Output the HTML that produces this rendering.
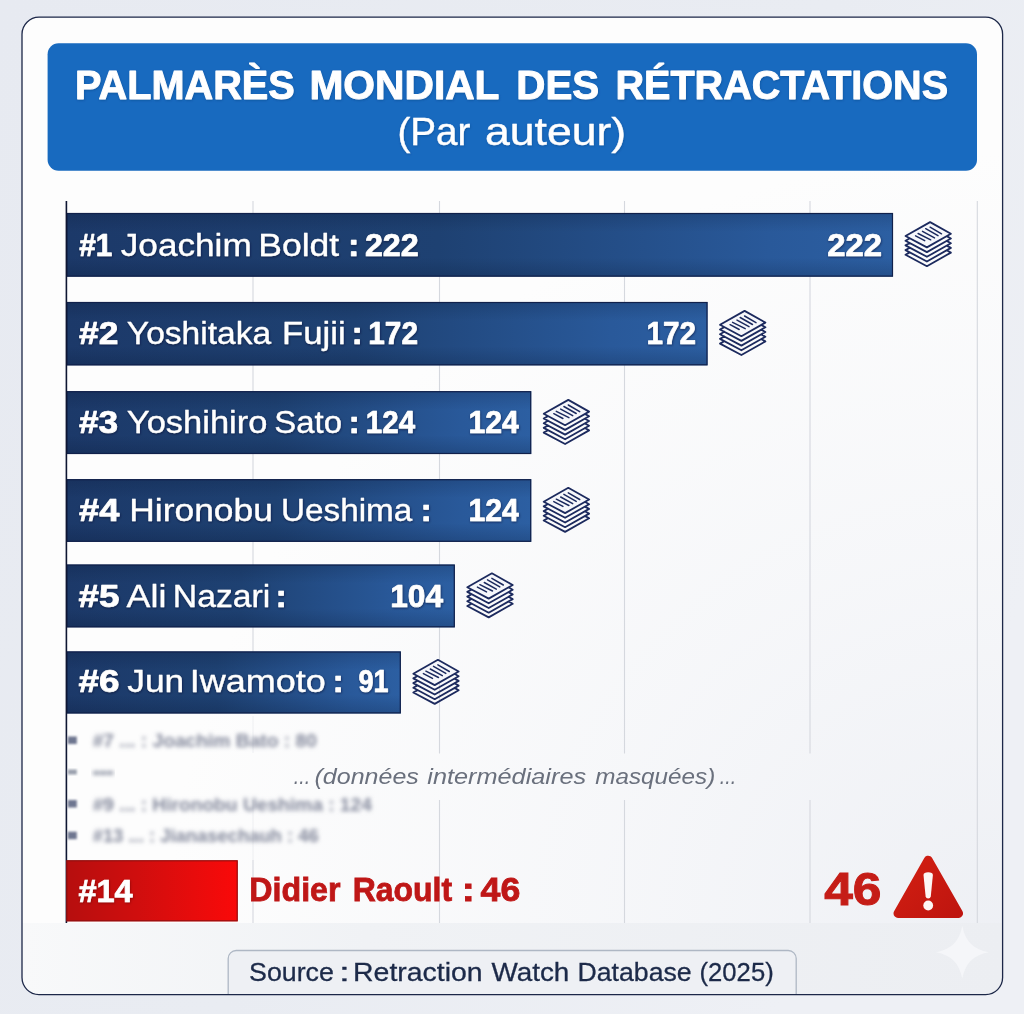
<!DOCTYPE html>
<html lang="fr"><head><meta charset="utf-8"><title>Palmarès mondial des rétractations</title>
<style>
html,body{margin:0;padding:0;background:#e8eaf0;}
body{width:1024px;height:1014px;overflow:hidden;}
svg{display:block;font-family:"Liberation Sans",sans-serif;}
</style></head><body>
<svg width="1024" height="1014" viewBox="0 0 1024 1014">
<defs>
<linearGradient id="gb" x1="0" y1="0" x2="1" y2="0">
<stop offset="0" stop-color="#1c3969"/><stop offset="0.45" stop-color="#1e4172"/><stop offset="0.85" stop-color="#29599a"/><stop offset="1" stop-color="#2c5fa2"/>
</linearGradient>
<linearGradient id="gv" x1="0" y1="0" x2="0" y2="1">
<stop offset="0" stop-color="#000a20" stop-opacity="0.16"/><stop offset="0.3" stop-color="#000a20" stop-opacity="0"/><stop offset="0.7" stop-color="#000a20" stop-opacity="0"/><stop offset="1" stop-color="#000a20" stop-opacity="0.18"/>
</linearGradient>
<linearGradient id="gr" x1="0" y1="0" x2="1" y2="0">
<stop offset="0" stop-color="#b60e0e"/><stop offset="0.42" stop-color="#d00e0e"/><stop offset="0.75" stop-color="#e80c0c"/><stop offset="1" stop-color="#fa0909"/>
</linearGradient>
<linearGradient id="gbg" x1="0" y1="0" x2="1" y2="0.6">
<stop offset="0" stop-color="#e7eaf1"/><stop offset="0.6" stop-color="#e9ecf2"/><stop offset="1" stop-color="#eef0f5"/>
</linearGradient>
<radialGradient id="gtint" cx="1" cy="1" r="0.85">
<stop offset="0" stop-color="#edeff4" stop-opacity="0.95"/><stop offset="0.45" stop-color="#eef0f5" stop-opacity="0.5"/><stop offset="1" stop-color="#eef0f5" stop-opacity="0"/>
</radialGradient>
<linearGradient id="gfoot" x1="0" y1="0" x2="1" y2="0">
<stop offset="0" stop-color="#f8f9fa"/><stop offset="0.35" stop-color="#f0f2f5"/><stop offset="1" stop-color="#eceef2"/>
</linearGradient>
<linearGradient id="gtri" x1="0" y1="0" x2="1" y2="1">
<stop offset="0" stop-color="#d21f12"/><stop offset="1" stop-color="#bf150f"/>
</linearGradient>
<clipPath id="cardclip"><rect x="22" y="17.2" width="980.6" height="977.4" rx="17"/></clipPath>
<filter id="blur" x="-5%" y="-50%" width="110%" height="200%"><feGaussianBlur stdDeviation="2.1"/></filter>
<filter id="blur2" x="-30%" y="-30%" width="160%" height="160%"><feGaussianBlur stdDeviation="1.1"/></filter>
<filter id="ts" x="-5%" y="-30%" width="110%" height="160%"><feDropShadow dx="0.5" dy="1" stdDeviation="1.3" flood-color="#08122e" flood-opacity="0.6"/></filter>
<filter id="ts3" x="-5%" y="-30%" width="110%" height="160%"><feDropShadow dx="0.5" dy="1" stdDeviation="1.2" flood-color="#5a0606" flood-opacity="0.55"/></filter>
<filter id="ts2" x="-5%" y="-30%" width="110%" height="160%"><feDropShadow dx="0.5" dy="1" stdDeviation="1.3" flood-color="#0d3a78" flood-opacity="0.45"/></filter>
<g id="stack" fill="none" stroke="#1c2a5e" stroke-width="1.8" stroke-linejoin="round" stroke-linecap="round">

<path d="M13.8 40.4 L9.5 42.8 L30.9 54.2 L54.9 40.6 L50.7 38.2 M13.8 35.7 L9.5 38.1 L30.9 49.5 L54.9 35.9 L50.7 33.6 M13.8 31.0 L9.5 33.4 L30.9 44.8 L54.9 31.2 L50.7 28.9 M13.8 26.3 L9.5 28.7 L30.9 40.1 L54.9 26.5 L50.7 24.1"/>
<path d="M34.1 10.1 L54.9 21.8 L30.9 35.4 L9.5 24 Z" fill="#f6f7fb"/>
<path d="M34.1 15.2 L45.5 21.8 M29.7 16.7 L42 23.7 M26.5 19.3 L38.5 25.9 M22.1 21.5 L34.7 27.8 M19.6 23.9 L28.7 28.7" stroke-width="1.5"/>
</g>
</defs>

<rect width="1024" height="1014" fill="url(#gbg)"/>
<rect x="22" y="17.2" width="980.6" height="977.4" rx="17" fill="#fdfdfd"/>
<g clip-path="url(#cardclip)">
<rect x="22" y="17" width="981" height="906" fill="url(#gtint)"/>
<rect x="22" y="923" width="981" height="73" fill="url(#gfoot)"/>
<rect x="228.2" y="950.5" width="568" height="60" rx="8" fill="#eef0f4" stroke="#aeb7c4" stroke-width="1.3"/>
</g>
<rect x="22" y="17.2" width="980.6" height="977.4" rx="17" fill="none" stroke="#1c2748" stroke-width="1.3"/>
<rect x="47.6" y="43.2" width="929.4" height="127.6" rx="11" fill="#186abf"/>
<g filter="url(#ts2)" stroke="#fff" stroke-linejoin="round">
<text y="99.2" font-size="40" fill="#fff"><tspan x="74.96" font-weight="700" textLength="219.84" lengthAdjust="spacingAndGlyphs" stroke-width="0.9">PALMARÈS</tspan> <tspan x="309.40" font-weight="700" textLength="190.12" lengthAdjust="spacingAndGlyphs" stroke-width="0.9">MONDIAL</tspan> <tspan x="516.32" font-weight="700" textLength="82.86" lengthAdjust="spacingAndGlyphs" stroke-width="0.9">DES</tspan> <tspan x="615.46" font-weight="700" textLength="332.63" lengthAdjust="spacingAndGlyphs" stroke-width="0.9">RÉTRACTATIONS</tspan></text>
<text y="144.7" font-size="38" fill="#fff"><tspan x="397.40" font-weight="400" textLength="73.06" lengthAdjust="spacingAndGlyphs" stroke-width="0.35">(Par</tspan> <tspan x="484.94" font-weight="400" textLength="141.29" lengthAdjust="spacingAndGlyphs" stroke-width="0.35">auteur)</tspan></text>
</g>
<path d="M439.5 201 V753.5 M439.5 800 V923" stroke="#d5d8de" stroke-width="1.1" fill="none"/>
<path d="M624.5 201 V753.5 M624.5 800 V923" stroke="#d5d8de" stroke-width="1.1" fill="none"/>
<path d="M810 201 V753.5 M810 800 V923" stroke="#d5d8de" stroke-width="1.1" fill="none"/>
<path d="M253 201 V713" stroke="#d5d8de" stroke-width="1.1" fill="none"/>
<path d="M253 716 V753 M253 800 V860" stroke="#d5d8de" stroke-width="1.1" fill="none" opacity="0.3"/>
<path d="M253 860 V923" stroke="#d5d8de" stroke-width="1.1" fill="none" stroke-dasharray="30 8"/>
<path d="M977.3 201 V923" stroke="#d5d8de" stroke-width="1.1" fill="none"/>
<rect x="66.4" y="213" width="826.6" height="63.6" fill="url(#gb)"/>
<rect x="66.4" y="213" width="826.6" height="63.6" fill="url(#gv)"/>
<rect x="66.9" y="213.5" width="825.6" height="62.6" fill="none" stroke="#11214b" stroke-width="1.2"/>
<use href="#stack" x="896.0" y="212.0"/>
<rect x="66.4" y="302" width="641.1" height="63.3" fill="url(#gb)"/>
<rect x="66.4" y="302" width="641.1" height="63.3" fill="url(#gv)"/>
<rect x="66.9" y="302.5" width="640.1" height="62.3" fill="none" stroke="#11214b" stroke-width="1.2"/>
<use href="#stack" x="710.5" y="300.8"/>
<rect x="66.4" y="391.2" width="464.8" height="62.8" fill="url(#gb)"/>
<rect x="66.4" y="391.2" width="464.8" height="62.8" fill="url(#gv)"/>
<rect x="66.9" y="391.7" width="463.8" height="61.8" fill="none" stroke="#11214b" stroke-width="1.2"/>
<use href="#stack" x="534.2" y="389.8"/>
<rect x="66.4" y="479.2" width="464.8" height="62.6" fill="url(#gb)"/>
<rect x="66.4" y="479.2" width="464.8" height="62.6" fill="url(#gv)"/>
<rect x="66.9" y="479.7" width="463.8" height="61.6" fill="none" stroke="#11214b" stroke-width="1.2"/>
<use href="#stack" x="534.2" y="477.7"/>
<rect x="66.4" y="564.6" width="388.4" height="62.7" fill="url(#gb)"/>
<rect x="66.4" y="564.6" width="388.4" height="62.7" fill="url(#gv)"/>
<rect x="66.9" y="565.1" width="387.4" height="61.7" fill="none" stroke="#11214b" stroke-width="1.2"/>
<use href="#stack" x="457.8" y="563.2"/>
<rect x="66.4" y="651.5" width="334.4" height="61.9" fill="url(#gb)"/>
<rect x="66.4" y="651.5" width="334.4" height="61.9" fill="url(#gv)"/>
<rect x="66.9" y="652.0" width="333.4" height="60.9" fill="none" stroke="#11214b" stroke-width="1.2"/>
<use href="#stack" x="403.8" y="649.7"/>
<line x1="66.4" y1="201" x2="66.4" y2="923" stroke="#0e1632" stroke-width="1.6"/>
<g filter="url(#ts)" stroke="#fff" stroke-linejoin="round">
<text y="255.6" font-size="32" fill="#fff"><tspan x="79.15" font-weight="700" textLength="33.09" lengthAdjust="spacingAndGlyphs" stroke-width="0.7">#1</tspan> <tspan x="120.76" font-weight="400" textLength="130.95" lengthAdjust="spacingAndGlyphs" stroke-width="0.3">Joachim</tspan> <tspan x="258.33" font-weight="400" textLength="80.88" lengthAdjust="spacingAndGlyphs" stroke-width="0.3">Boldt</tspan> <tspan x="348.09" font-weight="700" textLength="11.37" lengthAdjust="spacingAndGlyphs" stroke-width="0.7">:</tspan> <tspan x="364.94" font-weight="700" textLength="53.79" lengthAdjust="spacingAndGlyphs" stroke-width="0.7">222</tspan> <tspan x="827.22" font-weight="700" textLength="54.82" lengthAdjust="spacingAndGlyphs" stroke-width="0.7">222</tspan></text>
<text y="343.6" font-size="32" fill="#fff"><tspan x="79.12" font-weight="700" textLength="39.36" lengthAdjust="spacingAndGlyphs" stroke-width="0.7">#2</tspan> <tspan x="126.88" font-weight="400" textLength="144.23" lengthAdjust="spacingAndGlyphs" stroke-width="0.3">Yoshitaka</tspan> <tspan x="281.99" font-weight="400" textLength="63.60" lengthAdjust="spacingAndGlyphs" stroke-width="0.3">Fujii</tspan> <tspan x="351.59" font-weight="700" textLength="11.37" lengthAdjust="spacingAndGlyphs" stroke-width="0.7">:</tspan> <tspan x="368.25" font-weight="700" textLength="49.70" lengthAdjust="spacingAndGlyphs" stroke-width="0.7">172</tspan> <tspan x="646.46" font-weight="700" textLength="49.49" lengthAdjust="spacingAndGlyphs" stroke-width="0.7">172</tspan></text>
<text y="433.0" font-size="32" fill="#fff"><tspan x="79.02" font-weight="700" textLength="39.19" lengthAdjust="spacingAndGlyphs" stroke-width="0.7">#3</tspan> <tspan x="126.85" font-weight="400" textLength="140.56" lengthAdjust="spacingAndGlyphs" stroke-width="0.3">Yoshihiro</tspan> <tspan x="274.38" font-weight="400" textLength="67.69" lengthAdjust="spacingAndGlyphs" stroke-width="0.3">Sato</tspan> <tspan x="348.59" font-weight="700" textLength="11.37" lengthAdjust="spacingAndGlyphs" stroke-width="0.7">:</tspan> <tspan x="365.86" font-weight="700" textLength="49.20" lengthAdjust="spacingAndGlyphs" stroke-width="0.7">124</tspan> <tspan x="468.43" font-weight="700" textLength="50.44" lengthAdjust="spacingAndGlyphs" stroke-width="0.7">124</tspan></text>
<text y="521.0" font-size="32" fill="#fff"><tspan x="79.01" font-weight="700" textLength="40.35" lengthAdjust="spacingAndGlyphs" stroke-width="0.7">#4</tspan> <tspan x="129.34" font-weight="400" textLength="143.47" lengthAdjust="spacingAndGlyphs" stroke-width="0.3">Hironobu</tspan> <tspan x="281.02" font-weight="400" textLength="131.24" lengthAdjust="spacingAndGlyphs" stroke-width="0.3">Ueshima</tspan> <tspan x="420.59" font-weight="700" textLength="11.37" lengthAdjust="spacingAndGlyphs" stroke-width="0.7">:</tspan> <tspan x="468.43" font-weight="700" textLength="50.44" lengthAdjust="spacingAndGlyphs" stroke-width="0.7">124</tspan></text>
<text y="606.6" font-size="32" fill="#fff"><tspan x="78.61" font-weight="700" textLength="40.91" lengthAdjust="spacingAndGlyphs" stroke-width="0.7">#5</tspan> <tspan x="126.62" font-weight="400" textLength="39.71" lengthAdjust="spacingAndGlyphs" stroke-width="0.3">Ali</tspan> <tspan x="172.86" font-weight="400" textLength="97.47" lengthAdjust="spacingAndGlyphs" stroke-width="0.3">Nazari</tspan> <tspan x="275.59" font-weight="700" textLength="11.37" lengthAdjust="spacingAndGlyphs" stroke-width="0.7">:</tspan> <tspan x="390.15" font-weight="700" textLength="52.91" lengthAdjust="spacingAndGlyphs" stroke-width="0.7">104</tspan></text>
<text y="692.3" font-size="32" fill="#fff"><tspan x="78.61" font-weight="700" textLength="41.02" lengthAdjust="spacingAndGlyphs" stroke-width="0.7">#6</tspan> <tspan x="127.26" font-weight="400" textLength="56.87" lengthAdjust="spacingAndGlyphs" stroke-width="0.3">Jun</tspan> <tspan x="189.89" font-weight="400" textLength="135.93" lengthAdjust="spacingAndGlyphs" stroke-width="0.3">Iwamoto</tspan> <tspan x="332.59" font-weight="700" textLength="11.37" lengthAdjust="spacingAndGlyphs" stroke-width="0.7">:</tspan> <tspan x="358.58" font-weight="700" textLength="30.00" lengthAdjust="spacingAndGlyphs" stroke-width="0.7">91</tspan></text>
</g>
<g>
<rect x="67.8" y="736.5" width="9" height="7.5" fill="#6e7690" filter="url(#blur2)"/>
<text x="92.66" y="747.0" font-size="18.5" font-weight="700" fill="#83889b" textLength="224.28" lengthAdjust="spacingAndGlyphs" filter="url(#blur)">#7 ... : Joachim Bato : 80</text>
<rect x="67.8" y="769.5" width="9" height="5" fill="#9aa0ad" filter="url(#blur2)"/>
<text x="92.73" y="778.0" font-size="18.5" font-weight="700" fill="#7f8597" textLength="20.88" lengthAdjust="spacingAndGlyphs" stroke="#7f8597" stroke-width="0.8" filter="url(#blur)">---</text>
<rect x="67.8" y="800.0" width="9" height="7.5" fill="#6e7690" filter="url(#blur2)"/>
<text x="92.66" y="810.5" font-size="18.5" font-weight="700" fill="#83889b" textLength="279.20" lengthAdjust="spacingAndGlyphs" filter="url(#blur)">#9 ... : Hironobu Ueshima : 124</text>
<rect x="67.8" y="831.7" width="9" height="7.5" fill="#6e7690" filter="url(#blur2)"/>
<text x="92.67" y="842.2" font-size="18.5" font-weight="700" fill="#83889b" textLength="226.02" lengthAdjust="spacingAndGlyphs" filter="url(#blur)">#13 ... : Jianasechauh : 46</text>
</g>
<text y="784.3" font-size="22.5" fill="#6a707d" font-style="italic"><tspan x="293.82" font-weight="400" textLength="16.29" lengthAdjust="spacingAndGlyphs">...</tspan> <tspan x="314.55" font-weight="400" textLength="104.25" lengthAdjust="spacingAndGlyphs">(données</tspan> <tspan x="427.28" font-weight="400" textLength="158.83" lengthAdjust="spacingAndGlyphs">intermédiaires</tspan> <tspan x="595.28" font-weight="400" textLength="120.00" lengthAdjust="spacingAndGlyphs">masquées)</tspan> <tspan x="719.71" font-weight="400" textLength="16.42" lengthAdjust="spacingAndGlyphs">...</tspan></text>
<rect x="66.4" y="860.3" width="171.3" height="61" fill="url(#gr)"/>
<rect x="66.9" y="860.8" width="170.3" height="60" fill="none" stroke="#8e1010" stroke-width="1.1"/>
<g filter="url(#ts3)" stroke="#fff" stroke-width="0.7"><text x="78.44" y="902.0" font-size="32" font-weight="700" fill="#fff" textLength="54.26" lengthAdjust="spacingAndGlyphs">#14</text></g>
<text y="901.4" font-size="33.5" fill="#bf1717"><tspan x="249.33" font-weight="700" textLength="91.20" lengthAdjust="spacingAndGlyphs" stroke="#bf1717" stroke-width="0.8">Didier</tspan> <tspan x="352.75" font-weight="700" textLength="99.33" lengthAdjust="spacingAndGlyphs" stroke="#bf1717" stroke-width="0.8">Raoult</tspan> <tspan x="461.72" font-weight="700" textLength="13.09" lengthAdjust="spacingAndGlyphs" stroke="#bf1717" stroke-width="0.8">:</tspan> <tspan x="480.58" font-weight="700" textLength="39.77" lengthAdjust="spacingAndGlyphs" stroke="#bf1717" stroke-width="0.8">46</tspan></text>
<text x="824.23" y="905.0" font-size="46.5" font-weight="700" fill="#c51d17" textLength="57.26" lengthAdjust="spacingAndGlyphs" stroke="#c51d17" stroke-width="1">46</text>
<path d="M928.2 860.2 L958.6 913.4 L898 913.4 Z" fill="url(#gtri)" stroke="url(#gtri)" stroke-width="9" stroke-linejoin="round"/>
<path d="M923.5 875 Q923.6 872.3 928.2 872.3 Q932.8 872.3 932.9 875 L930.8 896.2 Q930.4 898.5 928.2 898.5 Q926 898.5 925.6 896.2 Z" fill="#fdf6f4"/>
<circle cx="928.2" cy="905.5" r="4.9" fill="#fdf6f4"/>
<text y="981.3" font-size="26" fill="#1c2a49"><tspan x="249.05" font-weight="400" textLength="84.84" lengthAdjust="spacingAndGlyphs" stroke="#1c2a49" stroke-width="0.3">Source</tspan> <tspan x="339.07" font-weight="400" textLength="10.80" lengthAdjust="spacingAndGlyphs" stroke="#1c2a49" stroke-width="0.3">:</tspan> <tspan x="353.12" font-weight="400" textLength="129.47" lengthAdjust="spacingAndGlyphs" stroke="#1c2a49" stroke-width="0.3">Retraction</tspan> <tspan x="491.44" font-weight="400" textLength="77.90" lengthAdjust="spacingAndGlyphs" stroke="#1c2a49" stroke-width="0.3">Watch</tspan> <tspan x="577.46" font-weight="400" textLength="114.19" lengthAdjust="spacingAndGlyphs" stroke="#1c2a49" stroke-width="0.3">Database</tspan> <tspan x="699.57" font-weight="400" textLength="74.12" lengthAdjust="spacingAndGlyphs" stroke="#1c2a49" stroke-width="0.3">(2025)</tspan></text>
<path d="M962.3 926 C965.3 941.3 973.3 949.3 988.6 952.3 C973.3 955.3 965.3 963.3 962.3 978.6 C959.3 963.3 951.3 955.3 936 952.3 C951.3 949.3 959.3 941.3 962.3 926 Z" fill="#f5f6f9"/>
</svg></body></html>
